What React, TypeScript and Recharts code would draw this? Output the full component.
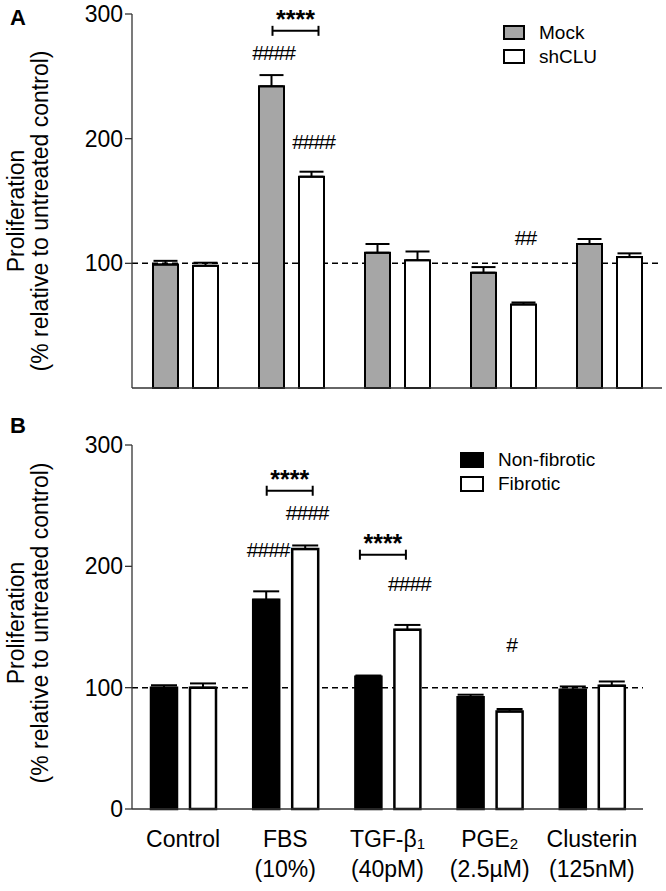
import { BarChart, Bar, XAxis, YAxis, ReferenceLine, ErrorBar, LabelList } from 'recharts';

const FONT = '"Liberation Sans", Arial, Helvetica, sans-serif';

// categories and tick text
const categories = ['Control', 'FBS', 'TGF-β1', 'PGE2', 'Clusterin'];
const tickMain = ['Control', 'FBS', 'TGF-β', 'PGE', 'Clusterin'];
const tickSub = ['', '', '1', '2', ''];
const tickSecond = ['', '(10%)', '(40pM)', '(2.5µM)', '(125nM)'];
const yTicks = [0, 100, 200, 300];

// panel A
const mockValues = [99, 242, 108.5, 92.5, 115.5];
const mockErrors = [3, 9, 7, 4.5, 4];
const shcluValues = [98, 169.5, 102.5, 67, 105];
const shcluErrors = [2.5, 4, 7, 1.6, 3];

// panel B
const nonFibroticValues = [100, 172.4, 109, 92.2, 98.3];
const nonFibroticErrors = [2, 7, 1, 2, 2.7];
const fibroticValues = [100, 214.2, 147.7, 80.4, 101.6];
const fibroticErrors = [3.5, 3, 4, 2, 3.5];

// significance marks (level = y value where the text / bracket sits)
const hashA = [
  { cat: 'FBS', key: 'mock', text: '####', level: 263 },
  { cat: 'FBS', key: 'shclu', text: '####', level: 192 },
  { cat: 'PGE2', key: 'shclu', text: '##', level: 115 },
];
const starsA = [{ cat: 'FBS', level: 286.5, dx: 4 }];

const hashB = [
  { cat: 'FBS', key: 'nonFibrotic', text: '####', level: 208 },
  { cat: 'FBS', key: 'fibrotic', text: '####', level: 238.5 },
  { cat: 'TGF-β1', key: 'fibrotic', text: '####', level: 180 },
  { cat: 'PGE2', key: 'fibrotic', text: '#', level: 129 },
];
const starsB = [
  { cat: 'FBS', level: 262.3, dx: 4 },
  { cat: 'TGF-β1', level: 209.6, dx: -5 },
];

const dataA = categories.map((c, i) => ({
  name: c,
  mock: mockValues[i],
  mockErr: [0, mockErrors[i]],
  shclu: shcluValues[i],
  shcluErr: [0, shcluErrors[i]],
}));

const dataB = categories.map((c, i) => ({
  name: c,
  nonFibrotic: nonFibroticValues[i],
  nonFibroticErr: [0, nonFibroticErrors[i]],
  fibrotic: fibroticValues[i],
  fibroticErr: [0, fibroticErrors[i]],
}));

function marks(key: string, hashes: any[], stars: any[], pitch: number) {
  return (props: any) => {
    const vb = props.viewBox ?? props;
    const x = Number(vb.x);
    const y = Number(vb.y);
    const w = Number(vb.width);
    const h = Number(vb.height);
    const value = Number(props.value);
    const cat = categories[props.index];
    if (!value || !cat) return null;
    const base = y + h;
    const toPx = (v: number) => base - (v * h) / value;
    const cx = x + w / 2;
    const out: any[] = [];
    hashes
      .filter((a) => a.cat === cat && a.key === key)
      .forEach((a, j) => {
        out.push(
          <text key={'h' + j} x={cx + 2} y={toPx(a.level)} textAnchor="middle" fontSize={21} letterSpacing={-1} fontFamily={FONT} fill="#000">
            {a.text}
          </text>
        );
      });
    stars
      .filter((s) => s.cat === cat)
      .forEach((s, j) => {
        const ly = toPx(s.level);
        const mid = cx + pitch / 2 + s.dx;
        const x1 = mid - 23;
        const x2 = mid + 23;
        out.push(
          <g key={'s' + j}>
            <line x1={x1} y1={ly} x2={x2} y2={ly} stroke="#000" strokeWidth={2} />
            <line x1={x1} y1={ly - 5} x2={x1} y2={ly + 5} stroke="#000" strokeWidth={2} />
            <line x1={x2} y1={ly - 5} x2={x2} y2={ly + 5} stroke="#000" strokeWidth={2} />
            <text x={mid} y={ly - 3} textAnchor="middle" fontSize={25} fontWeight="bold" fontFamily={FONT} fill="#000">
              ****
            </text>
          </g>
        );
      });
    return <g>{out}</g>;
  };
}

function YLabel({ viewBox, shift, letter, letterY }: any) {
  const cy = viewBox.y + viewBox.height / 2 + shift;
  return (
    <g fontFamily={FONT} fill="#000">
      <text x={10} y={letterY} fontSize={22} fontWeight="bold">
        {letter}
      </text>
      <text x={24} y={cy} fontSize={23} textAnchor="middle" transform={`rotate(-90, 24, ${cy})`}>
        Proliferation
      </text>
      <text x={48} y={cy} fontSize={23} textAnchor="middle" transform={`rotate(-90, 48, ${cy})`}>
        (% relative to untreated control)
      </text>
    </g>
  );
}

function CategoryTick({ x, y, payload }: any) {
  const i = categories.indexOf(payload.value);
  return (
    <g fontFamily={FONT} fill="#000" fontSize={23}>
      <text x={x} y={y + 38} textAnchor="middle">
        {tickMain[i]}
        {tickSub[i] ? (
          <tspan fontSize={15} dy={2}>
            {tickSub[i]}
          </tspan>
        ) : null}
      </text>
      {tickSecond[i] ? (
        <text x={x} y={y + 68} textAnchor="middle">
          {tickSecond[i]}
        </text>
      ) : null}
    </g>
  );
}

function LegendBox({ left, top, items, sw, sh, gap }: any) {
  return (
    <div style={{ position: 'absolute', left, top, fontFamily: FONT, fontSize: 19, color: '#000' }}>
      {items.map((it: any, i: number) => (
        <div key={it.name} style={{ position: 'absolute', left: 0, top: i * gap, display: 'flex', alignItems: 'center', height: sh, whiteSpace: 'nowrap' }}>
          <div style={{ width: sw, height: sh, boxSizing: 'border-box', border: '2px solid #000', background: it.fill }} />
          <span style={{ marginLeft: 14, lineHeight: sh + 'px' }}>{it.name}</span>
        </div>
      ))}
    </div>
  );
}

const axisStyle = { stroke: '#333', strokeWidth: 1.3 };
const tickStyle = { fontSize: 23, fill: '#000', fontFamily: FONT };

export default function App() {
  return (
    <div style={{ position: 'absolute', left: 0, top: 0, width: 666, height: 891, background: '#fff' }}>
      <div style={{ position: 'absolute', left: 0, top: 0 }}>
        <BarChart width={666} height={400} data={dataA} margin={{ top: 14, right: 4, bottom: 0, left: 72 }} barGap={15} barSize={25}>
          <XAxis dataKey="name" tick={false} tickLine={false} height={12} axisLine={axisStyle} />
          <YAxis
            domain={[0, 300]}
            ticks={yTicks}
            width={60}
            tickSize={7}
            tickMargin={2}
            axisLine={axisStyle}
            tickLine={axisStyle}
            tick={tickStyle}
            label={{ content: (p: any) => <YLabel viewBox={p.viewBox} shift={10} letter="A" letterY={25} /> }}
          />
          <ReferenceLine y={100} stroke="#000" strokeDasharray="6 4" strokeWidth={1.5} zIndex={-10} />
          <Bar dataKey="mock" name="Mock" fill="#a6a6a6" stroke="#000" strokeWidth={2} isAnimationActive={false}>
            <ErrorBar dataKey="mockErr" width={12} strokeWidth={2} stroke="#000" direction="y" />
            <LabelList dataKey="mock" content={marks('mock', hashA, starsA, 40)} />
          </Bar>
          <Bar dataKey="shclu" name="shCLU" fill="#fff" stroke="#000" strokeWidth={2} isAnimationActive={false}>
            <ErrorBar dataKey="shcluErr" width={12} strokeWidth={2} stroke="#000" direction="y" />
            <LabelList dataKey="shclu" content={marks('shclu', hashA, [], 40)} />
          </Bar>
        </BarChart>
      </div>
      <LegendBox
        left={503}
        top={25}
        sw={22}
        sh={15}
        gap={24}
        items={[
          { name: 'Mock', fill: '#a6a6a6' },
          { name: 'shCLU', fill: '#fff' },
        ]}
      />

      <div style={{ position: 'absolute', left: 0, top: 400 }}>
        <BarChart width={666} height={491} data={dataB} margin={{ top: 45, right: 23, bottom: 0, left: 72 }} barGap={13} barSize={26}>
          <XAxis dataKey="name" tickLine={false} tickSize={0} tickMargin={0} height={82} axisLine={axisStyle} tick={<CategoryTick />} interval={0} />
          <YAxis
            domain={[0, 300]}
            ticks={yTicks}
            width={60}
            tickSize={7}
            tickMargin={2}
            axisLine={axisStyle}
            tickLine={axisStyle}
            tick={tickStyle}
            label={{ content: (p: any) => <YLabel viewBox={p.viewBox} shift={-4} letter="B" letterY={33} /> }}
          />
          <ReferenceLine y={100} stroke="#000" strokeDasharray="6 4" strokeWidth={1.5} zIndex={-10} />
          <Bar dataKey="nonFibrotic" name="Non-fibrotic" fill="#000" stroke="#000" strokeWidth={2.5} isAnimationActive={false}>
            <ErrorBar dataKey="nonFibroticErr" width={13} strokeWidth={2} stroke="#000" direction="y" />
            <LabelList dataKey="nonFibrotic" content={marks('nonFibrotic', hashB, starsB, 39)} />
          </Bar>
          <Bar dataKey="fibrotic" name="Fibrotic" fill="#fff" stroke="#000" strokeWidth={2.5} isAnimationActive={false}>
            <ErrorBar dataKey="fibroticErr" width={13} strokeWidth={2} stroke="#000" direction="y" />
            <LabelList dataKey="fibrotic" content={marks('fibrotic', hashB, [], 39)} />
          </Bar>
        </BarChart>
      </div>
      <LegendBox
        left={460}
        top={452}
        sw={24}
        sh={16}
        gap={24}
        items={[
          { name: 'Non-fibrotic', fill: '#000' },
          { name: 'Fibrotic', fill: '#fff' },
        ]}
      />
    </div>
  );
}
